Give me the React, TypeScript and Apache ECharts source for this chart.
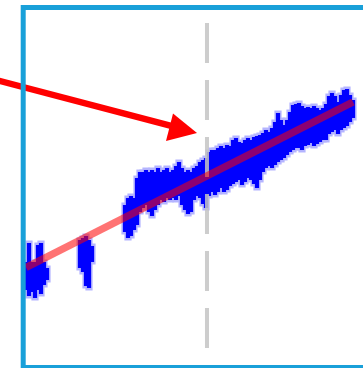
import React, { useEffect, useRef } from "react";
import * as echarts from "echarts";

// Sample index (3 px apart on the time axis) -> lower and upper envelope of the noisy signal.
// null marks stretches where no signal was recorded.
const signalLow: (number | null)[] = [
  76, 70, 74, 68, 76, 72, 81, 86,
  null, null, null, null, null, null, null, null, null, null,
  98, 94, 80, 78, 104,
  null, null, null, null, null, null, null, null, null, null,
  134, 128, 130, 136, 141, 154, 158, 161, 154, 150, 156, 161, 166, 164, 168, 166, 168, 166, 170, 161,
  156, 152, 154, 166, 170, 168, 162, 158, 170, 174, 171, 174, 178, 174, 176, 180, 182, 184, 186, 181,
  184, 188, 186, 182, 178, 186, 194, 198, 200, 198, 201, 204, 206, 208, 211, 214, 216, 218, 218, 216,
  220, 221, 223, 220, 222, 224, 226, 226, 232, 234, 236, 232, 236, 238, 240, 244, 248,
];
const signalHigh: (number | null)[] = [
  104, 123, 104, 104, 121, 123, 104, 98,
  null, null, null, null, null, null, null, null, null, null,
  126, 128, 130, 126, 120,
  null, null, null, null, null, null, null, null, null, null,
  161, 168, 170, 168, 188, 194, 194, 196, 194, 196, 194, 198, 194, 196, 198, 194, 196, 200, 204, 198,
  194, 196, 194, 198, 200, 204, 206, 208, 214, 216, 216, 218, 220, 218, 221, 220, 226, 228, 224, 223,
  226, 228, 226, 229, 230, 231, 233, 236, 234, 238, 244, 253, 246, 241, 246, 254, 261, 262, 263, 260,
  258, 259, 258, 260, 258, 256, 258, 262, 270, 273, 270, 264, 271, 276, 277, 271, 266,
];

// Linear trend fitted through the signal
const trendX = [0, 109];
const trendY = [98.5, 264];

// Time of the marked event
const eventX = 60.33;

// One vertical bar per sample spanning the envelope; pad widens it for the soft fringe
function envelopeBar(pad: number, fill: string) {
  return (params: any, api: any) => {
    const x = api.value(0);
    const p0 = api.coord([x - 0.7, api.value(2)]);
    const p1 = api.coord([x + 0.7, api.value(1)]);
    return {
      type: "rect",
      shape: {
        x: p0[0] - pad * 0.6,
        y: p0[1] - pad,
        width: p1[0] - p0[0] + pad * 1.2,
        height: p1[1] - p0[1] + pad * 2,
      },
      style: { fill },
    };
  };
}

export default function App() {
  const ref = useRef<HTMLDivElement>(null);

  useEffect(() => {
    if (!ref.current) return;
    const chart = echarts.init(ref.current, undefined, { renderer: "svg" });

    const envelope = signalLow
      .map((lo, i) => [i, lo, signalHigh[i]])
      .filter((d) => d[1] != null && d[2] != null);

    chart.setOption({
      animation: false,
      backgroundColor: "#ffffff",
      grid: { left: 26, top: 10, width: 330, height: 356 },
      xAxis: { type: "value", min: 0, max: 110, show: false },
      yAxis: { type: "value", min: 0, max: 356, show: false },
      series: [
        {
          type: "custom",
          name: "signal fringe",
          data: envelope,
          encode: { x: 0, y: [1, 2] },
          z: 1,
          renderItem: envelopeBar(2.5, "#b4b4ff"),
        },
        {
          type: "custom",
          name: "signal",
          data: envelope,
          encode: { x: 0, y: [1, 2] },
          z: 2,
          renderItem: envelopeBar(0, "#0000ff"),
        },
        {
          type: "line",
          name: "event",
          data: [
            [eventX, 343],
            [eventX, 0],
          ],
          symbol: "none",
          lineStyle: { color: "#c4c4c4", width: 4, type: [40, 17], opacity: 0.85 },
          z: 3,
        },
        {
          type: "line",
          name: "trend",
          data: trendX.map((x, i) => [x, trendY[i]]),
          symbol: "none",
          lineStyle: { color: "#ff0000", width: 7.5, opacity: 0.55 },
          z: 4,
        },
      ],
      graphic: {
        elements: [
          {
            type: "line",
            z: 10,
            shape: { x1: -5, y1: 79.7, x2: 174, y2: 126.7 },
            style: { stroke: "#ff0000", lineWidth: 6.5 },
          },
          {
            type: "polygon",
            z: 10,
            shape: {
              points: [
                [197, 133],
                [173, 113.5],
                [166, 141],
              ],
            },
            style: { fill: "#ff0000" },
          },
          {
            type: "rect",
            z: 11,
            shape: { x: 23.2, y: 7.5, width: 400, height: 360 },
            style: { fill: "none", stroke: "#19a0d9", lineWidth: 5 },
          },
        ],
      },
    });

    return () => chart.dispose();
  }, []);

  return (
    <div
      ref={ref}
      style={{ position: "fixed", left: 0, top: 0, width: 363, height: 368, background: "#fff" }}
    />
  );
}
